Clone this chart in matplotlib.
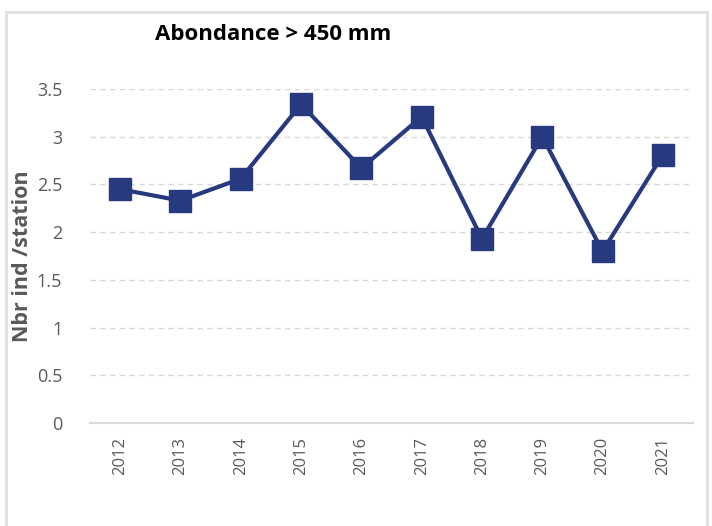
import matplotlib.pyplot as plt
from matplotlib.patches import Rectangle

years = ['2012', '2013', '2014', '2015', '2016', '2017', '2018', '2019', '2020', '2021']
abondance = [2.45, 2.33, 2.56, 3.34, 2.67, 3.21, 1.93, 3.0, 1.80, 2.81]
yticks = [0, 0.5, 1, 1.5, 2, 2.5, 3, 3.5]
ytick_labels = ['0', '0.5', '1', '1.5', '2', '2.5', '3', '3.5']

navy = '#27397f'
grey_txt = '#595959'
grey_line = '#d9d9d9'

plt.rcParams['font.family'] = ['Open Sans', 'DejaVu Sans']

fig = plt.figure(figsize=(7.12, 5.26), dpi=100)
ax = fig.add_axes([0.1264, 0.1958, 0.8469, 0.635])

x = list(range(len(years)))
ax.plot(x, abondance, color=navy, linewidth=3, marker='s', markersize=16,
        markerfacecolor=navy, markeredgecolor=navy, zorder=3)

ax.set_xlim(-0.5, len(years) - 0.5)
ax.set_ylim(0, 3.5)
ax.set_yticks(yticks)
ax.set_yticklabels(ytick_labels, fontsize=13, color=grey_txt)
ax.set_xticks(x)
ax.set_xticklabels(years, rotation=90, fontsize=12, color=grey_txt)
ax.tick_params(length=0)
ax.tick_params(axis='y', pad=20)
ax.tick_params(axis='x', pad=10)

for v in yticks[1:]:
    ax.axhline(v, color=grey_line, linewidth=1, linestyle=(0, (4, 3)), zorder=1)

for side in ['top', 'right', 'left']:
    ax.spines[side].set_visible(False)
ax.spines['bottom'].set_color(grey_line)
ax.spines['bottom'].set_linewidth(1.5)

ax.set_ylabel('Nbr ind /station', fontsize=15.5, fontweight='bold', color=grey_txt)
ax.yaxis.set_label_coords(-0.095, 0.5)

fig.text(155 / 712, 1 - 34 / 526, 'Abondance > 450 mm', fontsize=16,
         fontweight='bold', color='black', ha='left', va='center')

# light frame around the chart area
fig.patches.append(Rectangle((6 / 712, -0.05), 701 / 712, 1.05 - 12 / 526,
                             transform=fig.transFigure, fill=False,
                             edgecolor='#e0e0e0', linewidth=2))

fig.savefig('out.png', dpi=100)
